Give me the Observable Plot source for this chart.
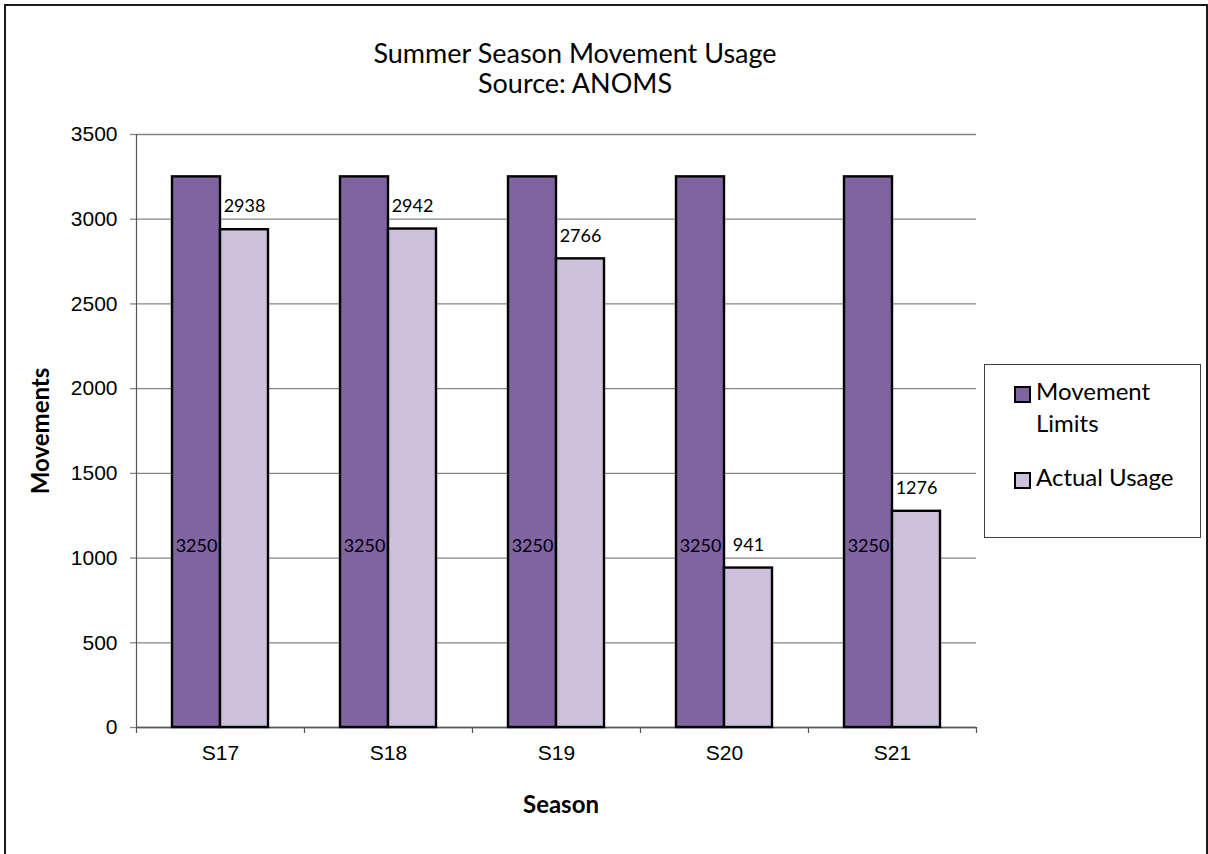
<!DOCTYPE html>
<html><head><meta charset="utf-8">
<script src="https://cdn.jsdelivr.net/npm/d3@7"></script>
<script src="https://cdn.jsdelivr.net/npm/@observablehq/plot@0.6"></script>
<style>
body{margin:0;background:#fff;}
#wrap{position:relative;width:1208px;height:854px;overflow:hidden;font-family:Lato,sans-serif;color:#000;}
#frame{position:absolute;left:4px;top:4px;width:1200px;height:900px;border:2px solid #1a1a1a;}
#plot{position:absolute;left:0;top:0;}
#title{position:absolute;left:0;width:1150px;top:38px;text-align:center;font-size:27px;line-height:30px;}
#ylab{position:absolute;left:39px;top:431px;transform:translate(-50%,-50%) rotate(-90deg);font-weight:bold;font-size:24px;white-space:nowrap;}
#xlab{position:absolute;left:561px;top:803px;transform:translate(-50%,-50%);font-weight:bold;font-size:24px;white-space:nowrap;}
#legend{position:absolute;left:984px;top:364px;width:215px;height:172px;border:1px solid #404040;background:#fff;font-size:24px;line-height:32px;}
.sw{position:absolute;width:13px;height:13px;border:2px solid #000;}
.lt{position:absolute;white-space:nowrap;}
</style></head>
<body>
<div id="wrap">
  <div id="frame"></div>
  <div id="plot"></div>
  <div id="title">Summer Season Movement Usage<br>Source: ANOMS</div>
  <div id="ylab">Movements</div>
  <div id="xlab">Season</div>
  <div id="legend"></div>
</div>
<script>
const seasons = ["S17", "S18", "S19", "S20", "S21"];
const movementLimits = [3250, 3250, 3250, 3250, 3250];
const actualUsage = [2938, 2942, 2766, 941, 1276];
const yTicks = [0, 500, 1000, 1500, 2000, 2500, 3000, 3500];
const seriesNames = ["Movement Limits", "Actual Usage"];
const seriesColors = ["#8064A2", "#CCC1DA"];

const limits = seasons.map((s, i) => ({season: s, value: movementLimits[i]}));
const usage = seasons.map((s, i) => ({season: s, value: actualUsage[i]}));

const gridColor = "#868686";
const axisColor = "#555555";

const chart = Plot.plot({
  width: 1208,
  height: 854,
  marginLeft: 136,
  marginRight: 232,
  marginTop: 134,
  marginBottom: 127,
  style: {background: "transparent", fontFamily: "'Liberation Sans', Arial, sans-serif", overflow: "visible"},
  x: {domain: seasons, paddingInner: 0.4286, paddingOuter: 0.2143, label: null},
  y: {domain: [0, 3500], label: null},
  marks: [
    Plot.gridY(yTicks, {stroke: gridColor, strokeOpacity: 1, strokeWidth: 1.3}),
    Plot.axisY(yTicks, {tickSize: 6, tickPadding: 13, fontSize: 21, stroke: gridColor, strokeWidth: 1.3, tickFormat: (d) => String(d), label: null}),
    Plot.axisX({tickSize: 0, tickPadding: 18, fontSize: 21, label: null}),
    Plot.ruleX([seasons[0]], {x: (d) => d, dx: -84, y1: 0, y2: 3500, stroke: axisColor, strokeWidth: 1.2}),
    Plot.ruleY([0], {stroke: axisColor, strokeWidth: 1.3}),
    Plot.ruleX(seasons, {x: (d) => d, dx: -84, y1: 0, y2: 0, insetBottom: -6, stroke: axisColor, strokeWidth: 1.2}),
    Plot.ruleX([seasons[seasons.length - 1]], {x: (d) => d, dx: 84, y1: 0, y2: 0, insetBottom: -6, stroke: axisColor, strokeWidth: 1.2}),
    Plot.barY(limits, {x: "season", y: "value", fill: seriesColors[0], stroke: "#000", strokeWidth: 2.4, insetRight: 48}),
    Plot.barY(usage, {x: "season", y: "value", fill: seriesColors[1], stroke: "#000", strokeWidth: 2.4, insetLeft: 48}),
    Plot.text(usage, {x: "season", y: "value", text: (d) => String(d.value), dx: 24, dy: -23, fontSize: 18, fontFamily: "Lato", fill: "#000"}),
    Plot.text(limits, {x: "season", y: (d) => d.value * 0.33, text: (d) => String(d.value), dx: -24, fontSize: 18, fontFamily: "Lato", fill: "#000"})
  ]
});
document.getElementById("plot").appendChild(chart);

// legend
const legend = document.getElementById("legend");
const legendItems = [
  {name: seriesNames[0], color: seriesColors[0], sw: 21, tx: 10, lines: ["Movement", "Limits"]},
  {name: seriesNames[1], color: seriesColors[1], sw: 107, tx: 96, lines: ["Actual Usage"]}
];
legendItems.forEach((it) => {
  const sw = document.createElement("div");
  sw.className = "sw";
  sw.style.left = "29px";
  sw.style.top = it.sw + "px";
  sw.style.background = it.color;
  legend.appendChild(sw);
  const t = document.createElement("div");
  t.className = "lt";
  t.style.left = "51px";
  t.style.top = it.tx + "px";
  t.innerHTML = it.lines.join("<br>");
  legend.appendChild(t);
});
</script>
</body></html>
